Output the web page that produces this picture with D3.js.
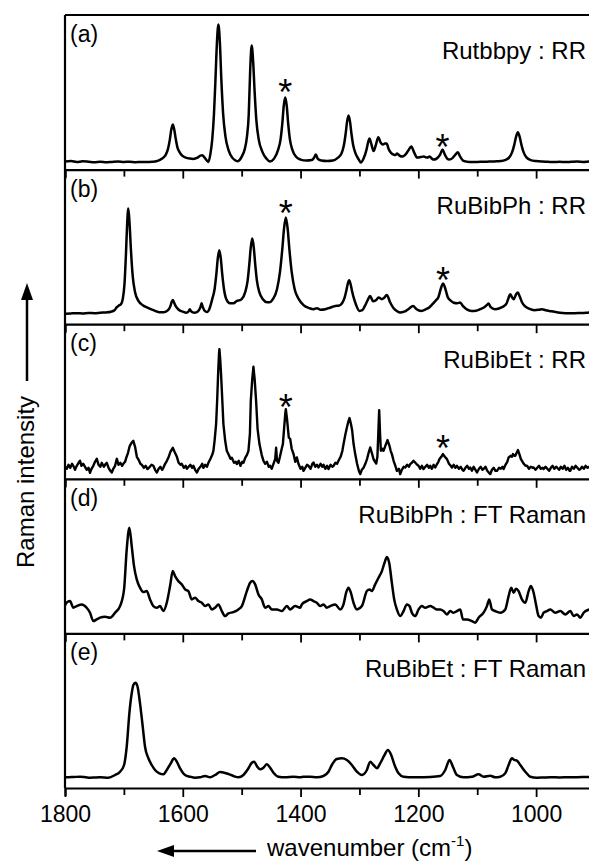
<!DOCTYPE html>
<html><head><meta charset="utf-8">
<script src="https://cdn.jsdelivr.net/npm/d3@7"></script>
<style>
html,body{margin:0;padding:0;background:#fff}
svg{display:block}
text{font-family:"Liberation Sans",Arial,Helvetica,sans-serif;fill:#000}
</style>
</head><body>
<svg id="chart" width="589" height="862"></svg>
<script>
// ---------- data ----------
const panelLabels = ["(a)", "(b)", "(c)", "(d)", "(e)"];
const sampleNames = ["Rutbbpy : RR", "RuBibPh : RR", "RuBibEt : RR", "RuBibPh : FT Raman", "RuBibEt : FT Raman"];
const tickValues = [1800, 1700, 1600, 1500, 1400, 1300, 1200, 1100, 1000, 900];
const tickLabels = [1800, 1600, 1400, 1200, 1000];
const xTitle = "wavenumber (cm";
const yTitle = "Raman intensity";

// [wavenumber (cm-1), intensity (a.u.)]
const spectrumA = [[1800,8],[1790,8.5],[1780,7.6],[1770,8.3],[1760,7.9],[1750,7.4],[1740,7.8],[1730,7.3],[1720,7.7],[1710,8],[1700,7.6],[1690,7.9],[1680,7.4],[1670,7.7],[1660,7.5],[1652,7.8],[1645,8.3],[1638,10],[1633,12],[1629,14.7],[1625,21],[1622,30],[1619.5,40],[1617,45],[1614.5,40],[1612,31],[1609,22],[1606,18],[1601,14],[1595,12],[1588,11],[1582,10.7],[1575,12],[1570,14],[1567,14.3],[1563,12],[1559,9],[1556.5,7.7],[1553,16],[1550,30],[1547,56],[1544.5,90],[1542,127],[1539.5,145],[1537,127],[1534.5,90],[1531.5,56],[1527.5,33],[1522,19],[1516,12],[1510,9],[1507,8.3],[1503,10],[1499,14],[1495,20],[1491,33],[1488,55],[1485.5,100],[1483,124],[1480.5,108],[1478,78],[1475,49],[1471,30],[1465,18],[1458,11],[1452,8],[1445,11],[1438,20],[1434,30],[1431,46],[1428.5,64],[1426,72],[1423.5,64],[1421,46],[1418,30],[1414,20],[1408,13],[1400,10],[1390,9],[1381,9.5],[1377,12],[1374,15],[1371,11],[1365,9],[1355,8.5],[1345,9],[1337,11.7],[1330.5,16],[1326.5,24],[1323.5,35.6],[1321,48],[1318.5,54],[1316,48],[1313.5,35.6],[1310.5,24],[1306.5,16],[1301,10],[1297.6,7],[1293,11],[1288,20],[1285,28],[1283,31],[1280,26],[1276,18.5],[1272,25],[1268,32.3],[1264,27],[1260,25],[1257,26],[1254,26],[1250,20],[1246,16.5],[1242,15],[1239,14.5],[1236,16],[1232,14],[1227,13],[1222,15],[1217,19],[1212,23],[1207,17],[1202,12],[1196,12.5],[1191,13],[1185,12],[1181,13],[1177,11],[1174,10],[1169,11],[1163,15],[1159,20],[1155,15],[1151,11],[1147.6,10],[1142,11.5],[1137,15],[1133,17.3],[1129,13],[1124,9],[1118,8],[1110,7.5],[1100,7.7],[1090,7.8],[1080,8],[1070,8.2],[1060,8.6],[1053,9.5],[1046,12],[1041,17],[1037,25],[1034,33],[1031,37.3],[1028,33],[1025,25],[1021,17],[1016,12],[1009,9.5],[1000,8.5],[990,8],[980,7.8],[970,7.6],[960,7.8],[950,7.5],[940,7.8],[930,8],[920,7.7],[910,8],[900,8.2]];

const spectrumB = [[1800,10.5],[1790,10.8],[1780,11],[1770,10.7],[1760,11.2],[1750,11],[1740,11.5],[1730,11.8],[1722,12.5],[1716,14],[1712,17],[1709,18.5],[1705,20],[1702,25],[1699,40],[1696.5,70],[1694.5,100],[1692.5,115.7],[1690.5,102],[1688,74],[1685,48],[1681,32],[1675,23],[1668,19],[1660,16.5],[1650,14],[1640,12],[1632,12],[1625,14],[1621,18],[1619,22],[1617,24.3],[1615,22],[1612,18],[1607,14.5],[1600,12.5],[1594,11.5],[1590,13],[1588,15],[1586,13],[1580,11.5],[1574,13],[1570,17],[1568,21],[1566,17],[1562,13],[1558,12.3],[1555,15],[1550,25],[1546,35],[1543,50],[1540.5,66],[1538,74],[1535.5,66],[1533,50],[1530,35],[1526,25],[1520,21],[1514,21],[1508,23.3],[1503,24],[1500,25],[1494,32],[1490,43],[1487,60],[1484.5,77],[1482,85.7],[1479.5,77],[1477,60],[1474,43],[1470,32],[1464,25],[1457,22],[1452,22],[1447,25],[1440,35],[1435,52],[1431,75],[1428,96],[1425,106.7],[1422,96],[1419,75],[1415,52],[1410,35],[1403,25],[1395,19],[1385,16],[1378,15],[1372,16],[1366,14.5],[1358,15],[1350,16.5],[1341,18.3],[1335.5,18.5],[1329.5,21],[1325.5,26],[1322.5,33],[1320,40],[1317.5,44],[1315,40],[1312.5,33],[1309.5,26],[1305.5,19],[1300,13.3],[1295,14],[1291,18],[1286,24],[1282,28.3],[1277,23],[1272,24],[1267.5,26.7],[1262,25],[1258,26.5],[1253.5,29.3],[1248,22],[1242,16],[1236,13],[1231,11.7],[1224,12.5],[1216,15.5],[1209,18.3],[1203,15],[1195,13.3],[1187,15],[1181,17],[1176,20],[1170,24],[1166,27],[1163,33],[1160.5,38],[1158,40.7],[1155.5,38],[1153,33],[1150,27],[1146,24],[1140,21.5],[1134,21],[1129,21.7],[1124,18],[1117,14.5],[1110,13.3],[1102,13.5],[1095,15],[1088,17],[1083,19.5],[1080.7,20.7],[1077,17],[1070,15],[1062,16],[1055,18],[1050,21],[1047,26],[1044,30],[1041,27],[1038,25],[1034,30],[1031,31.7],[1028,28],[1024,22],[1019,18],[1012,15.5],[1003,14],[995,14.5],[990,15],[984,14],[975,13],[965,12],[955,11.3],[945,11],[935,11],[925,11.2],[915,11.5],[905,12],[900,12.5]];

const spectrumC = [[1800,12],[1797,10],[1794,14],[1791,11],[1788,15],[1785,12],[1783,9],[1780,13],[1777,16],[1774.5,18],[1772,13],[1769,15],[1766,12],[1763,9],[1760,11],[1757.5,6],[1755,10],[1752,13],[1749,17],[1746,20],[1743,14],[1740,12],[1737.6,16],[1734,12],[1731,15],[1729,16],[1726,11],[1723,8],[1720.6,6.3],[1718,10],[1715,13],[1712,20],[1709,14],[1706,16],[1703,13],[1701,15],[1698,17],[1696,21],[1693,26],[1690,33],[1687,36],[1684,38],[1681,32],[1678,22],[1675,19],[1672,15],[1669.7,14],[1666,11],[1663,13],[1660,9.7],[1656,12],[1653,14],[1650,13],[1647,9],[1644,6.3],[1641,10],[1638,12],[1635,9],[1633,11],[1630,15],[1627,18],[1624.5,21],[1621,27],[1617,31],[1614,27],[1610,22],[1607,16],[1604,14],[1601.8,15],[1598,11],[1595,13],[1593,10],[1590,12],[1587,14],[1584,11],[1582,13],[1579,9],[1576,6.3],[1573,10],[1570,12],[1567,15],[1565,11],[1562,14],[1559,12],[1556.5,16],[1553,20],[1550,24],[1548,28],[1546,38],[1543.4,54.7],[1541.5,80],[1540,104.7],[1538.5,125],[1537.8,129.7],[1536.5,120],[1535,104.7],[1533,80],[1531,54.7],[1528,38],[1525.3,28],[1522,24],[1519,20],[1516.7,21],[1513,16],[1510,17],[1508.3,14.7],[1505,18],[1502,13],[1499,17],[1497,16],[1494,21],[1491,24],[1488.5,28],[1486,45],[1484.5,78],[1482,100],[1480,112],[1478,100],[1475.5,78],[1473,50],[1469.8,34.7],[1466,24],[1463,18],[1460,15],[1457,17],[1454,12],[1451.7,13],[1449,10],[1446,15],[1443,20],[1441.5,31],[1440,18],[1437.5,16],[1435,22],[1432,30],[1430,34.7],[1428,50],[1426,65],[1425,69.7],[1423,60],[1420,41.3],[1417.7,40],[1415,30],[1412,25],[1409,17],[1406.3,21.3],[1403.6,15],[1400,10],[1397,12],[1395,8],[1392,11],[1389,14],[1386.6,13],[1383,10],[1380,15],[1378,16.3],[1375,12],[1372,14],[1369.6,11.3],[1366,15],[1363,12],[1361,14],[1358,10],[1355,13],[1352.6,9.7],[1349,14],[1346,12],[1344,13],[1341,16],[1338,15],[1335.6,18],[1332,22],[1329,28],[1327,34.7],[1324,44],[1321.3,51.3],[1319,57],[1316.9,60.7],[1314.5,55],[1312.3,48],[1310,35],[1307.2,24.7],[1304,15],[1301,8],[1298.7,4.7],[1296,9],[1293,11],[1290.2,14.7],[1287,20],[1284,27],[1281.7,31.3],[1279,26],[1276.1,19.7],[1273.5,17],[1271.5,15.3],[1269.5,22],[1268,45],[1266.5,68.7],[1265,45],[1263.6,28],[1261,30],[1259.1,28],[1256,33],[1254,36],[1252.3,38.7],[1249,33],[1247,28],[1244.9,24.7],[1242,18],[1239,13],[1236.4,8],[1233,10],[1230.8,4.7],[1228,9],[1225,12],[1222.3,11.3],[1219,14],[1216,12],[1213.8,14.7],[1211,16],[1208.2,18],[1205,16],[1202,14],[1199.7,13],[1197,10],[1194,13],[1191.2,9.7],[1188,12],[1185,14],[1182,11],[1179.8,13],[1177,10],[1174,14],[1171.3,11.3],[1168,15],[1166,17],[1164,19.7],[1161,22],[1158.2,24.7],[1155,22],[1151.4,19.7],[1148,15],[1145,13],[1142.9,11.3],[1140,14],[1137,11],[1134.4,13],[1131,10],[1128,12],[1125,9],[1123.2,8],[1120,11],[1117,13],[1114,10],[1111.8,11.3],[1109,8],[1106,12],[1103,9],[1100.4,6.3],[1097,10],[1094,12],[1091,9],[1089.2,9.7],[1086,12],[1083,8],[1080,6],[1077.8,4.7],[1075,9],[1072,11],[1069,8],[1066.4,8],[1063,11],[1060,10],[1057,12],[1055.2,9.7],[1052,14],[1049,17],[1046.7,21.3],[1043,23],[1041,22],[1039.3,24.7],[1037,23],[1035.3,23],[1033,26],[1030.8,28.7],[1028,24],[1026,20],[1024,18],[1021,15],[1018,13],[1015.5,13],[1012,10],[1009,12],[1006,11],[1004.3,11.3],[1001,9],[998,11],[995,13],[992,10],[989,11],[987.3,9.7],[984,12],[981,10],[978,8],[975,11],[972,13],[969,10],[966,12],[964.5,11.3],[961,9],[958,12],[955,10],[952,13],[949,9],[946,11],[943,8],[941.9,8],[939,12],[936,10],[933,13],[930,11],[927,9],[924.9,9.7],[922,12],[919,10],[916,13],[913,11],[910,12],[907,10],[904,13],[900,11]];

const spectrumD = [[1800,28],[1797.2,30.7],[1791.5,32.3],[1785.9,25.7],[1780.2,27.3],[1771.7,29],[1763.2,25.7],[1757.5,20.7],[1751.9,12.3],[1746.2,14],[1740.5,15.7],[1732,16.7],[1723.5,15.7],[1715,20.7],[1706.5,27.3],[1699.7,44],[1695.2,84],[1690.7,105.7],[1686.7,87.3],[1682.8,67.3],[1678.2,54],[1672.6,45.7],[1667,41.3],[1661.2,42.3],[1655.6,34],[1650,27.3],[1644.2,25.7],[1638.6,27.3],[1633,22.3],[1627.2,30.7],[1621.6,47.3],[1617,62.3],[1613.1,57.3],[1607.5,52.3],[1601.8,49],[1596.1,44],[1590.5,42.3],[1584.8,34],[1579.1,35.7],[1573.5,32.3],[1567.7,30.7],[1562.1,27.3],[1556.5,29],[1550.7,24],[1545.1,25.7],[1539.5,29],[1533.7,22.3],[1528.1,17.3],[1522.5,20],[1514,21.3],[1505.5,24],[1499.7,27.3],[1491.2,42.3],[1485.6,50.7],[1481.7,52.3],[1477.1,49],[1471.5,39],[1465.8,34],[1460.2,25.7],[1454.5,27.3],[1448.8,24],[1440.3,24],[1431.8,22.3],[1423.3,27.3],[1417.7,24],[1409.2,27.3],[1400.7,25.7],[1397.9,29],[1389.4,32.3],[1383.7,34],[1378,32.3],[1372.4,30.7],[1366.7,27.3],[1361.1,29],[1355.4,25.7],[1349.7,27.3],[1341.2,29],[1332.7,24],[1327.1,29],[1322.6,40.7],[1318.6,45.7],[1314.6,40.7],[1310.1,30.7],[1304.4,24],[1295.9,27.3],[1287.4,42.3],[1282.9,44],[1278.9,42.3],[1273.3,49],[1267.6,55.7],[1261.9,62.3],[1257.4,70.7],[1253.4,76.3],[1249.5,70.7],[1245,50.7],[1241,34],[1236.5,24],[1230.8,17.3],[1225.1,22.3],[1219.5,29],[1214.9,27.3],[1211,20.7],[1205.3,17.3],[1199.6,24],[1194,27.3],[1188.3,25.7],[1179.8,27.3],[1174.1,25.7],[1168.5,24],[1162.8,24],[1157.2,22.3],[1151.5,19],[1145.8,22.3],[1140.2,20.7],[1134.5,22.3],[1128.8,24],[1124.3,14],[1117.5,14],[1109,12.3],[1103.4,10.7],[1097.7,15.7],[1089.2,20.7],[1083.5,27.3],[1079.6,34],[1075,24],[1069.4,22.3],[1060.9,20.7],[1052.4,24],[1046.7,37.3],[1042.2,45.7],[1038.2,40.7],[1034.2,44.7],[1029.7,42.3],[1024.1,34],[1018.4,30.7],[1012.7,42.3],[1008.8,47.3],[1004.2,40.7],[999.7,27.3],[995.7,17.3],[991.8,15.7],[987.2,20.7],[981.6,22.3],[975.9,24],[967.4,20.7],[958.9,22.3],[950.4,19],[941.9,22.3],[936.3,17.3],[930.6,19],[925,15.7],[919.3,20.7],[909.6,24],[900,26]];

const spectrumE = [[1800,10.7],[1797.2,10.7],[1785,11],[1774.5,11.3],[1765,10.8],[1757.5,10.3],[1748,10.6],[1740.5,10.7],[1726.4,10.3],[1715,13],[1706.5,16.3],[1699.7,23],[1695.2,41.3],[1690.7,74.7],[1686.7,94.7],[1683.9,103],[1680.5,105.3],[1677.1,102],[1672.6,84.7],[1668,61.3],[1664.1,41.3],[1658.4,29.7],[1652.7,23],[1647.1,18],[1639.7,14.7],[1633,13.7],[1627.2,18],[1620.4,24.7],[1614.8,29.7],[1610.2,26.3],[1604.6,19.7],[1596.1,13],[1587.6,11.3],[1579.1,10.3],[1570.6,10.7],[1562.1,12],[1553.6,10.7],[1545.1,13],[1536.6,16],[1529.8,15.3],[1522.5,14],[1514,12],[1505.5,10.7],[1497,13],[1488.5,19.7],[1482.8,25.3],[1478.8,26.3],[1474.3,22],[1468.6,18.7],[1463,20.3],[1457.3,23.7],[1451.6,20.3],[1446,15.3],[1437.5,11.3],[1426.1,10.7],[1412,11.3],[1400.7,10.7],[1395,11.3],[1383.7,11.3],[1372.4,10.7],[1361.1,12],[1352.6,16.3],[1346.9,23],[1338.4,29],[1329.9,29.7],[1321.4,28],[1312.9,23],[1304.4,16.3],[1295.9,13],[1287.4,18],[1281.8,26.3],[1276.1,23],[1270.4,19.7],[1264.8,24.7],[1257.4,33],[1251.7,38],[1246.1,33],[1240.4,23],[1233.6,14.7],[1225.1,11.3],[1208.1,10.7],[1194,10.8],[1179.8,11],[1162.8,12],[1154.3,18],[1147,28],[1141.3,21.3],[1134.5,13],[1123.2,10.7],[1109,11.3],[1097.7,13.7],[1089.2,11.3],[1077.9,12.3],[1069.4,10.7],[1060.9,11.3],[1052.4,14.7],[1046.7,23],[1041.1,29.7],[1037.1,28],[1032.6,27.3],[1026.9,23],[1018.4,16.3],[1009.9,11.3],[998.6,10.3],[987,10.5],[975.9,10.7],[960,10.6],[947.6,10.7],[930,10.8],[909.6,11],[900,11]];

const spectra = [spectrumA, spectrumB, spectrumC, spectrumD, spectrumE];
// asterisk marks: [panel index, wavenumber, intensity]
const asteriskMarks = [[0,1426,86],[0,1159,31],[1,1425,119],[1,1158,52],[2,1425,80],[2,1158,39]];

// ---------- layout ----------
const chartW = 589, chartH = 862;
const plotLeft = 65, plotTop = 15, panelH = 154.6, plotRight = 595;
const svg = d3.select("#chart");

const x = d3.scaleLinear().domain([1800, 900]).range([plotLeft, plotRight]);

spectra.forEach((data, i) => {
  const pTop = plotTop + i * panelH, pBottom = pTop + panelH;
  const y = d3.scaleLinear().domain([0, 155]).range([pBottom, pBottom - 155]);
  const g = svg.append("g");

  const line = d3.line().x(d => x(d[0])).y(d => y(d[1]))
    .curve(i === 2 ? d3.curveLinear : d3.curveMonotoneX);
  g.append("path").datum(data).attr("d", line)
    .attr("fill", "none").attr("stroke", "#000")
    .attr("stroke-width", i === 2 ? 2.4 : 2.5)
    .attr("stroke-linejoin", "round");

  const axis = d3.axisBottom(x).tickValues(tickValues).tickSizeOuter(0).tickSize(8)
    .tickFormat(d => (i === 4 && tickLabels.includes(d)) ? d : "");
  const ag = g.append("g").attr("transform", `translate(0,${pBottom})`).call(axis);
  ag.select(".domain").attr("stroke-width", 2.2);
  ag.selectAll(".tick line").attr("stroke-width", 1.8)
    .attr("y2", d => tickLabels.includes(d) ? 9 : 7);
  ag.selectAll(".tick text").attr("font-size", 23).attr("y", 34).attr("dy", 0)
    .style("font-family", '"Liberation Sans", Arial, sans-serif').attr("fill", "#000");

  g.append("text").attr("x", 70).attr("y", pTop + 27).attr("font-size", 23).text(panelLabels[i]);
  g.append("text").attr("x", 586).attr("y", pTop + 44).attr("font-size", 24)
    .attr("text-anchor", "end").text(sampleNames[i]);

  asteriskMarks.filter(a => a[0] === i).forEach(a => {
    g.append("text").attr("x", x(a[1])).attr("y", y(a[2]) + 21)
      .attr("text-anchor", "middle").attr("font-size", 36).text("*");
  });
});

// frame: left and top
svg.append("line").attr("x1", plotLeft).attr("x2", plotLeft).attr("y1", plotTop).attr("y2", plotTop + 5 * panelH)
  .attr("stroke", "#000").attr("stroke-width", 2.2);
svg.append("line").attr("x1", plotLeft).attr("x2", plotRight).attr("y1", plotTop).attr("y2", plotTop)
  .attr("stroke", "#000").attr("stroke-width", 2.2);

// x title with arrow
svg.append("line").attr("x1", 256).attr("x2", 170).attr("y1", 851).attr("y2", 851)
  .attr("stroke", "#000").attr("stroke-width", 2.5);
svg.append("path").attr("d", d3.line()([[157,851],[174,845],[174,857]]) + "Z").attr("fill", "#000");
const xt = svg.append("text").attr("x", 267).attr("y", 856).attr("font-size", 24);
xt.append("tspan").text(xTitle);
xt.append("tspan").attr("font-size", 15).attr("dy", -10).text("-1");
xt.append("tspan").attr("dy", 10).text(")");

// y title with arrow
svg.append("line").attr("x1", 27).attr("x2", 27).attr("y1", 381).attr("y2", 296)
  .attr("stroke", "#000").attr("stroke-width", 2.5);
svg.append("path").attr("d", d3.line()([[27,283],[21,300],[33,300]]) + "Z").attr("fill", "#000");
svg.append("text").attr("transform", "translate(34,568) rotate(-90)")
  .attr("font-size", 24).text(yTitle);
</script>
</body></html>
